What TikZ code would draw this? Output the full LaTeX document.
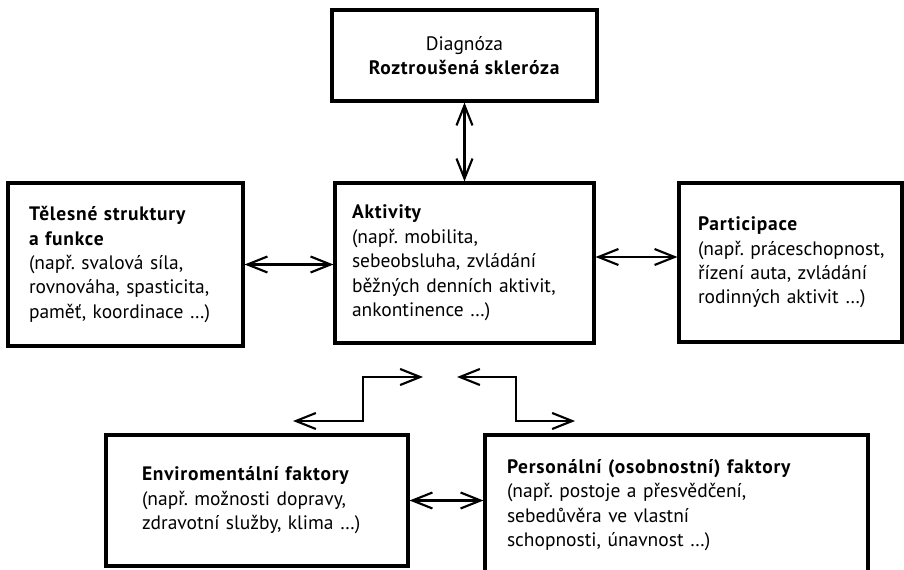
\documentclass[tikz,border=0pt]{standalone}
\usepackage{fontspec}
\setmainfont{PT Sans}[BoldFeatures={LetterSpace=4}]
\usetikzlibrary{arrows.meta}
\hyphenpenalty=10000
\exhyphenpenalty=10000

\begin{document}
\begin{tikzpicture}[x=0.75pt, y=-0.75pt, >={Straight Barb[length=15pt,width=12pt]},
        box/.style={draw, line width=2.3pt, rectangle, inner sep=0pt, align=left,
                    font=\fontsize{14.6pt}{18.3pt}\selectfont},
        link/.style={<->, line width=1.6pt}]

        % ==== CANVAS ====
        \clip (0,0) rectangle (904,570);

        % ==== DIAGNOSIS ====
        \node[box, align=center, minimum width=198.75pt, minimum height=68.25pt] (diag) at (464.5,55.5)
            {Diagnóza\\\textbf{Roztroušená skleróza}};

        % ==== MIDDLE ROW ====
        \node[box, minimum width=176.25pt, minimum height=122.25pt, text width=144.75pt] (telo) at (125.5,264.5)
            {\textbf{Tělesné struktury}\\\textbf{a funkce}\\(např.~svalová~síla,\\rovnováha,~spasticita,\\paměť,~koordinace~…)};
        \node[box, minimum width=194.25pt, minimum height=120pt, text width=168.75pt] (akt) at (464.5,263)
            {\textbf{Aktivity}\\(např.~mobilita,\\sebeobsluha,~zvládání\\běžných~denních~aktivit,\\ankontinence~…)};
        \node[box, minimum width=167.25pt, minimum height=119.25pt, text width=138.75pt] (part) at (790.5,262.5)
            {\textbf{Participace}\\(např.~práceschopnost,\\řízení~auta,~zvládání\\rodinných~aktivit~…)};

        % ==== BOTTOM ROW ====
        \node[box, minimum width=226.5pt, minimum height=98.25pt, text width=172.5pt] (env) at (257,500.5)
            {\textbf{Enviromentální~faktory}\\(např.~možnosti~dopravy,\\zdravotní~služby,~klima~…)};
        \node[box, minimum width=287.25pt, minimum height=105pt, text width=254.25pt] (pers) at (676.5,505)
            {\textbf{Personální~(osobnostní)~faktory}\\(např.~postoje~a~přesvědčení,\\sebedůvěra~ve~vlastní\\schopnosti,~únavnost~…)};

        % ==== ARROWS BETWEEN BOXES ====
        \draw[link] (diag.south) -- (akt.north);
        \draw[link] (telo.east) -- (telo.east -| akt.west);
        \draw[link] ([yshift=4.5pt]akt.east) -- ([yshift=4.5pt]akt.east -| part.west);
        \draw[link] (env.east) -- (env.east -| pers.west);

        % ==== FREE ELBOW ARROWS ====
        \coordinate (envtip) at (293,421);
        \coordinate (akttipL) at (423,377);
        \coordinate (akttipR) at (457,377);
        \coordinate (perstip) at (575,421);
        \draw[link] (envtip) -| (363,399) |- (akttipL);
        \draw[link] (akttipR) -| (516,399) |- (perstip);
\end{tikzpicture}
\end{document}
